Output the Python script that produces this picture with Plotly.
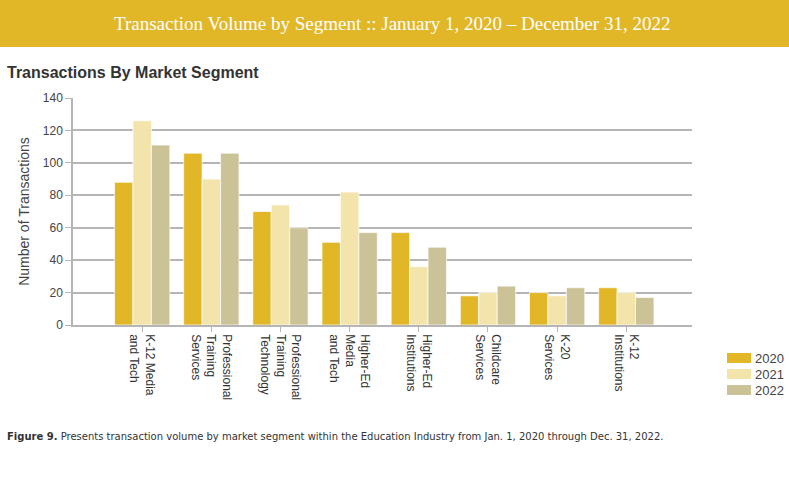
import plotly.graph_objects as go

categories = [
    "K-12 Media<br>and Tech",
    "Professional<br>Training<br>Services",
    "Professional<br>Training<br>Technology",
    "Higher-Ed<br>Media<br>and Tech",
    "Higher-Ed<br>Institutions",
    "Childcare<br>Services",
    "K-20<br>Services",
    "K-12<br>Institutions",
]
values_2020 = [88, 106, 70, 51, 57, 18, 20, 23]
values_2021 = [126, 90, 74, 82, 36, 20, 18, 20]
values_2022 = [111, 106, 60, 57, 48, 24, 23, 17]
series_names = ["2020", "2021", "2022"]
colors = ["#E2B727", "#F3E4AC", "#CBC397"]

W, H = 789, 478
L, R, T, B = 73, 97, 98, 153
PW, PH = W - L - R, H - T - B


def px_x(x):
    return (x - L) / PW


def px_y(y):
    return (H - B - y) / PH


fig = go.Figure()
for name, vals, col in zip(series_names, [values_2020, values_2021, values_2022], colors):
    fig.add_trace(go.Bar(
        x=categories, y=vals, name=name,
        marker=dict(color=col, line=dict(color="rgba(255,255,255,0.7)", width=1)),
    ))

fig.update_layout(
    width=W, height=H,
    margin=dict(l=L, r=R, t=T, b=B, autoexpand=False),
    paper_bgcolor="white", plot_bgcolor="white",
    barmode="group", bargap=0.2, bargroupgap=0,
    font=dict(family="Liberation Sans, Arial, sans-serif", color="#444"),
    showlegend=False,
    xaxis=dict(
        type="category", range=[-1.0, 7.95], automargin=False,
        showgrid=False, showline=True, linecolor="#B5B5B5", linewidth=1.5,
        ticks="outside", ticklen=5, tickcolor="#B5B5B5",
        tickangle=90, tickfont=dict(size=12, color="#333"),
    ),
    yaxis=dict(
        range=[0, 140], dtick=20, automargin=False,
        showgrid=True, gridcolor="#B5B5B5", gridwidth=1.5,
        showline=True, linecolor="#B5B5B5", linewidth=1.5,
        ticks="outside", ticklen=6, tickcolor="#B5B5B5",
        tickfont=dict(size=12, color="#444"),
        title=dict(text="Number of Transactions", font=dict(size=14, color="#444"), standoff=10),
        zeroline=False,
    ),
)

# header band
fig.add_shape(type="rect", xref="paper", yref="paper",
              x0=px_x(0), x1=px_x(W), y0=px_y(47), y1=px_y(0),
              fillcolor="#E2B727", line=dict(width=0), layer="below")

fig.add_annotation(text="Transaction Volume by Segment :: January 1, 2020 – December 31, 2022",
                   xref="paper", yref="paper", x=px_x(392), y=px_y(23),
                   xanchor="center", yanchor="middle", showarrow=False,
                   font=dict(family="Liberation Serif, serif", size=19, color="white"))

fig.add_annotation(text="<b>Transactions By Market Segment</b>",
                   xref="paper", yref="paper", x=px_x(5), y=px_y(72),
                   xanchor="left", yanchor="middle", showarrow=False,
                   font=dict(family="Liberation Sans, Arial, sans-serif", size=16, color="#333"))

fig.add_annotation(text="<b>Figure 9.</b> Presents transaction volume by market segment within the Education Industry from Jan. 1, 2020 through Dec. 31, 2022.",
                   xref="paper", yref="paper", x=px_x(5), y=px_y(436),
                   xanchor="left", yanchor="middle", showarrow=False,
                   font=dict(family="DejaVu Sans, Verdana, sans-serif", size=10, color="#333"))

# manual legend (wide swatches as in the reference)
for i, (name, col) in enumerate(zip(series_names, colors)):
    yc = 358 + 16 * i
    fig.add_shape(type="rect", xref="paper", yref="paper",
                  x0=px_x(727), x1=px_x(751), y0=px_y(yc + 5), y1=px_y(yc - 5),
                  fillcolor=col, line=dict(width=0))
    fig.add_annotation(text=name, xref="paper", yref="paper",
                       x=px_x(753), y=px_y(yc), xanchor="left", yanchor="middle",
                       showarrow=False, font=dict(size=13, color="#444"))

fig.write_html("out.html",
               config={"displayModeBar": False},
               post_script="document.body.style.margin='0';document.body.style.overflow='hidden';")
